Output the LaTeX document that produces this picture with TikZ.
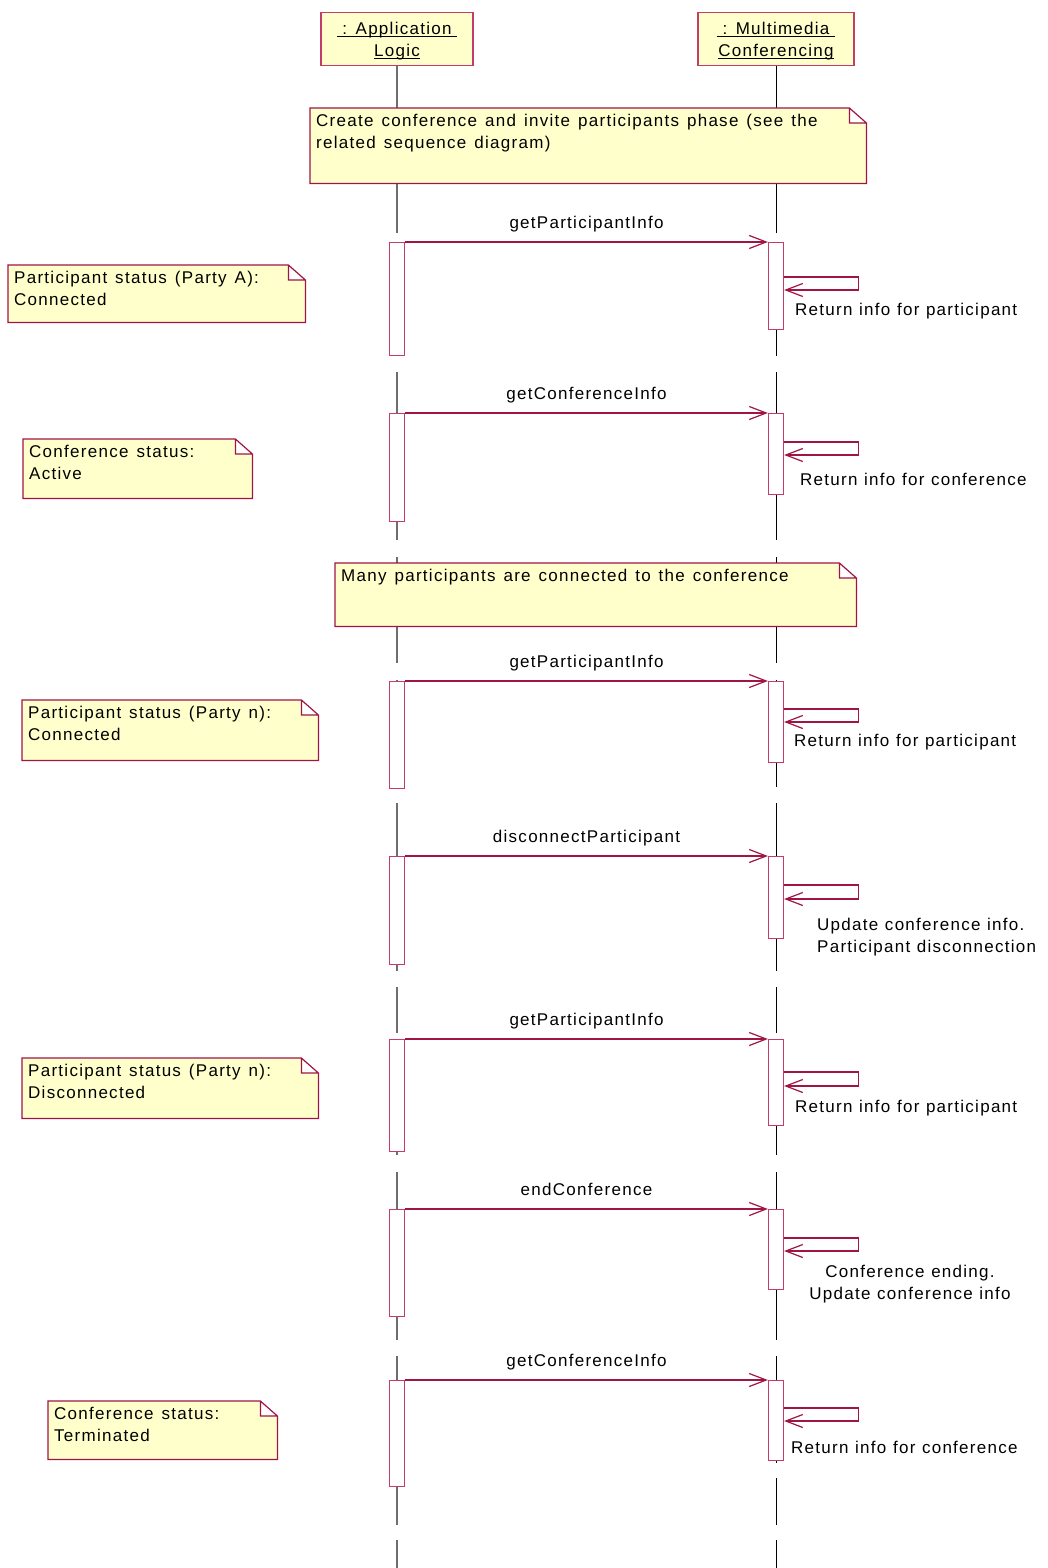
\documentclass[tikz,border=0pt]{standalone}
\usepackage{fontspec}
\setmainfont{Liberation Sans}[LetterSpace=7.5, WordSpace=1.1]
\usepackage{tikz}
\usetikzlibrary{arrows.meta, positioning, calc, backgrounds}
\definecolor{roseline}{RGB}{160,20,70}
\definecolor{rosebox}{RGB}{196,60,105}
\definecolor{rosefill}{RGB}{255,255,204}
\definecolor{lifegray}{RGB}{110,110,110}
\newcommand{\notespace}{\spaceskip 8pt\relax}

\begin{document}
\begin{tikzpicture}[
    x=1pt, y=-1pt,
    font=\fontsize{17}{22}\selectfont,
    objhead/.style={draw=rosebox, fill=rosefill, line width=1.2pt, anchor=north,
                    align=center, inner xsep=0pt, inner ysep=9pt, text height=13pt, text depth=22pt},
    activ/.style={draw=rosebox, fill=white, line width=1.2pt, minimum width=15pt, anchor=north, inner sep=0pt},
    msg/.style={draw=roseline, line width=1.2pt, -{Straight Barb[length=17pt,width=13pt]}},
    msglabel/.style={anchor=base, yshift=14pt, inner sep=0pt},
    selflabel/.style={inner sep=0pt},
    notebox/.style={anchor=north west, align=flush left, inner xsep=6pt, inner ysep=5pt, text height=13pt},
    noteline/.style={draw=roseline, fill=rosefill, line width=1.2pt},
    lifeA/.style={draw=lifegray, line width=1.2pt},
    lifeB/.style={draw=black, line width=0.9pt}
]
    \useasboundingbox (0,0) rectangle (1047,1568);

    % Objects on top
    \node[objhead, text width=152pt] (app) at (397,12) {\underline{\smash{\ : Application\ }}\\\underline{\smash{Logic}}};
    \node[objhead, text width=156pt] (mmc) at (776,12) {\underline{\smash{\ : Multimedia\ }}\\\underline{\smash{Conferencing}}};

    % Notes
    \node[notebox, text width=544pt, text depth=52pt] (setup) at (310,108)
        {\notespace Create conference and invite participants phase (see the\\related sequence diagram)};
    \node[notebox, text width=285pt, text depth=34pt] (partA) at (8,265) {\notespace Participant status (Party A):\\Connected};
    \node[notebox, text width=217pt, text depth=36pt] (confA) at (23,439) {\notespace Conference status:\\Active};
    \node[notebox, text width=509pt, text depth=40pt] (many) at (335,563) {\notespace Many participants are connected to the conference};
    \node[notebox, text width=284pt, text depth=37pt] (partN) at (22,700) {\notespace Participant status (Party n):\\Connected};
    \node[notebox, text width=284pt, text depth=37pt] (partD) at (22,1058) {\notespace Participant status (Party n):\\Disconnected};
    \node[notebox, text width=217pt, text depth=35pt] (confT) at (48,1401) {\notespace Conference status:\\Terminated};

    % Lifelines and note outlines go behind
    \begin{scope}[on background layer]
        \foreach \a/\b in {65/233,242/356,372/540,557/663,680/787,803/971,987/1033,1039/1155,1172/1340,1356/1525,1540/1568}
            \draw[lifeA] (app.south |- 0,\a) -- (app.south |- 0,\b);
        \foreach \a/\b in {65/233,242/356,372/540,557/663,680/787,803/971,987/1033,1039/1155,1172/1340,1356/1463,1478/1525,1540/1568}
            \draw[lifeB] (mmc.south |- 0,\a) -- (mmc.south |- 0,\b);
        \foreach \n in {setup,partA,confA,many,partN,partD,confT}
            \draw[noteline] (\n.north west) -- ([xshift=-17pt]\n.north east) -- ([yshift=-15pt]\n.north east)
                -- (\n.south east) -- (\n.south west) -- cycle
                ([xshift=-17pt]\n.north east) |- ([yshift=-15pt]\n.north east);
    \end{scope}

    % Activations
    \foreach \i/\y/\hl/\hr in {1/242/113/87, 2/413/108/81, 3/681/107/81, 4/856/108/82,
                              5/1039/112/86, 6/1209/107/80, 7/1380/106/80} {
        \node[activ, minimum height=\hl pt] (actA\i) at (app.south |- 0,\y) {};
        \node[activ, minimum height=\hr pt] (actB\i) at (mmc.south |- 0,\y) {};
    }

    % Calls
    \foreach \i/\txt in {1/getParticipantInfo, 2/getConferenceInfo, 3/getParticipantInfo, 4/disconnectParticipant,
                         5/getParticipantInfo, 6/endConference, 7/getConferenceInfo}
        \draw[msg] (actA\i.north east) -- (actB\i.north west) node[msglabel, midway] {\txt};

    % Self calls
    \foreach \i/\a/\b in {1/35/48, 2/29/42, 3/28/41, 4/29/43, 5/33/47, 6/29/42, 7/28/41}
        \draw[msg] ([yshift=-\a pt]actB\i.north east) -- ++(74,0) -- ++(0,\b-\a)
            -- ([yshift=-\b pt]actB\i.north east);

    \node[selflabel, anchor=base west] (ret1) at (795,315) {Return info for participant};
    \node[selflabel, anchor=base west] (ret2) at (800,485) {Return info for conference};
    \node[selflabel, anchor=base west] (ret3) at (794,746) {Return info for participant};
    \node[selflabel, anchor=north west, align=left] (ret4) at (817,918) {Update conference info.\\Participant disconnection};
    \node[selflabel, anchor=base west] (ret5) at (795,1112) {Return info for participant};
    \node[selflabel, anchor=north, align=center] (ret6) at (910,1265) {Conference ending.\\Update conference info};
    \node[selflabel, anchor=base west] (ret7) at (791,1453) {Return info for conference};
\end{tikzpicture}
\end{document}
